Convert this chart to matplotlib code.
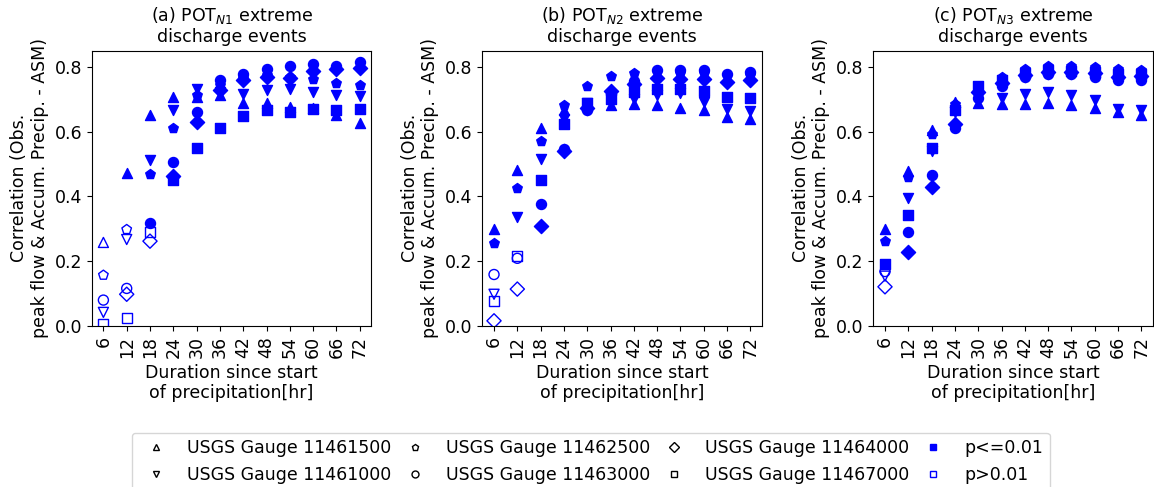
import matplotlib
matplotlib.use("Agg")
import matplotlib.pyplot as plt
from matplotlib.lines import Line2D
import numpy as np

durations = [6, 12, 18, 24, 30, 36, 42, 48, 54, 60, 66, 72]
gauges = ["11461500", "11461000", "11462500", "11463000", "11464000", "11467000"]
markers = ["^", "v", "p", "o", "D", "s"]
titles = ["(a) POT$_{N1}$ extreme\ndischarge events",
          "(b) POT$_{N2}$ extreme\ndischarge events",
          "(c) POT$_{N3}$ extreme\ndischarge events"]

# correlation per gauge (rows follow `gauges`), one list per panel
corr_n1 = [
    [0.258, 0.471, 0.651, 0.707, 0.707, 0.712, 0.690, 0.687, 0.677, 0.672, 0.651, 0.628],
    [0.042, 0.267, 0.512, 0.666, 0.733, 0.722, 0.716, 0.728, 0.731, 0.723, 0.712, 0.710],
    [0.157, 0.298, 0.468, 0.612, 0.712, 0.745, 0.765, 0.775, 0.770, 0.762, 0.749, 0.743],
    [0.080, 0.116, 0.318, 0.506, 0.661, 0.759, 0.779, 0.792, 0.802, 0.810, 0.804, 0.815],
    [-0.05, 0.098, 0.262, 0.463, 0.630, 0.728, 0.759, 0.770, 0.767, 0.788, 0.795, 0.797],
    [0.006, 0.026, 0.289, 0.452, 0.551, 0.612, 0.648, 0.668, 0.661, 0.671, 0.668, 0.671],
]
corr_n2 = [
    [0.299, 0.483, 0.612, 0.666, 0.680, 0.682, 0.684, 0.682, 0.673, 0.666, 0.646, 0.638],
    [0.098, 0.337, 0.515, 0.640, 0.690, 0.700, 0.702, 0.712, 0.718, 0.692, 0.671, 0.664],
    [0.255, 0.425, 0.572, 0.682, 0.741, 0.772, 0.782, 0.787, 0.782, 0.780, 0.775, 0.775],
    [0.159, 0.209, 0.378, 0.548, 0.668, 0.715, 0.756, 0.790, 0.790, 0.790, 0.779, 0.784],
    [0.016, 0.114, 0.310, 0.540, 0.673, 0.725, 0.746, 0.766, 0.762, 0.764, 0.754, 0.759],
    [0.077, 0.216, 0.452, 0.625, 0.690, 0.702, 0.723, 0.733, 0.733, 0.725, 0.707, 0.705],
]
corr_n3 = [
    [0.299, 0.479, 0.605, 0.692, 0.688, 0.684, 0.686, 0.687, 0.682, 0.673, 0.661, 0.651],
    [0.154, 0.394, 0.540, 0.662, 0.703, 0.704, 0.715, 0.723, 0.712, 0.697, 0.671, 0.666],
    [0.263, 0.461, 0.594, 0.684, 0.735, 0.769, 0.792, 0.803, 0.803, 0.800, 0.795, 0.790],
    [0.168, 0.291, 0.466, 0.610, 0.704, 0.742, 0.770, 0.778, 0.778, 0.770, 0.760, 0.760],
    [0.121, 0.229, 0.430, 0.625, 0.722, 0.750, 0.775, 0.785, 0.785, 0.780, 0.770, 0.772],
    [0.190, 0.342, 0.551, 0.668, 0.742, 0.760, 0.780, 0.790, 0.788, 0.785, 0.778, 0.778],
]
# number of leading durations with p>0.01 for each gauge
n_insig_n1 = [1, 2, 2, 2, 3, 3]
n_insig_n2 = [0, 1, 0, 2, 2, 2]
n_insig_n3 = [0, 1, 0, 1, 1, 0]

FS = 12.5
plt.rcParams["font.size"] = FS

fig = plt.figure(figsize=(11.54, 4.87), dpi=100)
lefts = [0.0795, 0.418, 0.7568]
xpos = np.arange(len(durations))

for k, (corr, n_insig) in enumerate(zip([corr_n1, corr_n2, corr_n3],
                                        [n_insig_n1, n_insig_n2, n_insig_n3])):
    ax = fig.add_axes([lefts[k], 0.3306, 0.2423, 0.5653])
    for g in range(len(gauges)):
        vals = np.array(corr[g])
        sig = xpos >= n_insig[g]
        ax.scatter(xpos[sig], vals[sig], marker=markers[g], s=52,
                   facecolors="blue", edgecolors="blue", linewidths=1.0, zorder=3)
        ax.scatter(xpos[~sig], vals[~sig], marker=markers[g], s=52,
                   facecolors="none", edgecolors="blue", linewidths=1.0, zorder=3)
    ax.set_xlim(-0.5, len(durations) - 0.5)
    ax.set_ylim(0, 0.85)
    ax.set_xticks(xpos)
    ax.set_xticklabels([str(d) for d in durations], rotation=90)
    ax.set_yticks([0.0, 0.2, 0.4, 0.6, 0.8])
    ax.set_title(titles[k], fontsize=FS)
    ax.set_xlabel("Duration since start\nof precipitation[hr]")
    ax.set_ylabel("Correlation (Obs.\npeak flow & Accum. Precip. - ASM)")

handles = []
for g in range(len(gauges)):
    handles.append(Line2D([], [], linestyle="none", marker=markers[g], color="black",
                          markerfacecolor="none", markersize=5,
                          label="USGS Gauge " + gauges[g]))
handles.append(Line2D([], [], linestyle="none", marker="s", color="blue",
                      markerfacecolor="blue", markersize=5, label="p<=0.01"))
handles.append(Line2D([], [], linestyle="none", marker="s", color="blue",
                      markerfacecolor="none", markersize=5, label="p>0.01"))
fig.legend(handles=handles, ncol=4, loc="lower center", bbox_to_anchor=(0.512, -0.012),
           fontsize=FS, columnspacing=0.35, borderaxespad=0.1)

fig.savefig("out.png", dpi=100)
